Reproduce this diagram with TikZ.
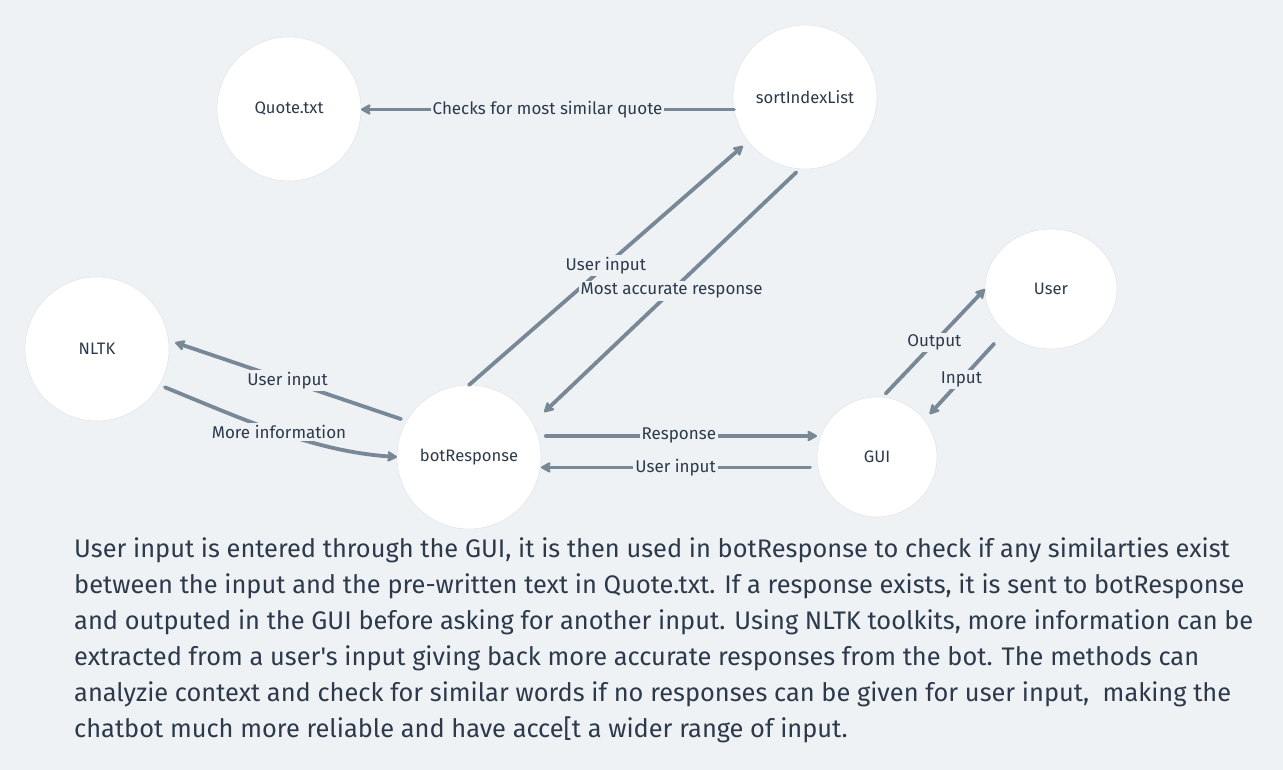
\documentclass[tikz,border=0pt]{standalone}
\usepackage{fontspec}
\setmainfont{Fira Sans}[Ligatures=TeXOff]
\usetikzlibrary{arrows.meta,shapes.geometric}
\definecolor{bg}{HTML}{EFF2F5}
\definecolor{edge}{HTML}{788897}
\definecolor{ink}{HTML}{2C3A4B}
\definecolor{rim}{HTML}{E2E6EA}
\tikzset{
  bubble/.style={circle,fill=white,draw=rim,line width=0.6pt,inner sep=0pt,outer sep=0pt,text=ink,font=\fontsize{16.6}{20}\selectfont},
  conn/.style={draw=edge,line width=3.8pt,line cap=round,-{Stealth[length=12pt,width=13pt,inset=3pt,round]}},
  lab/.style={fill=bg,text=ink,inner sep=2pt,font=\fontsize{17}{20}\selectfont},
  para/.style={anchor=base west,text=ink,inner sep=0pt,font=\fontsize{25.4}{30}\selectfont}
}
\begin{document}
\begin{tikzpicture}[x=1pt,y=-1pt]
\fill[bg] (0,0) rectangle (1283,770);
\useasboundingbox (0,0) rectangle (1283,770);

\node[bubble,minimum size=144pt] (Q) at (289,109) {Quote.txt};
\node[bubble,minimum size=144pt] (S) at (805,97) {sortIndexList};
\node[bubble,minimum size=144pt] (N) at (97,349) {NLTK};
\node[bubble,minimum size=144pt] (B) at (469,457) {botResponse};
\node[bubble,minimum size=120pt] (G) at (877,457) {GUI};
\node[bubble,ellipse,minimum width=132pt,minimum height=120pt] (U) at (1051,289) {User};

\draw[conn] (S.190) -- node[lab,pos=0.5] {Checks for most similar quote} (S.190 -| Q.east);
\draw[conn,shorten >=7pt] (B.90) -- node[lab,pos=0.49] {User input} (S.218);
\draw[conn,shorten <=5pt,shorten >=16pt] (S.266) -- node[lab,pos=0.48] {Most accurate response} (B.28);
\draw[conn,shorten <=6pt,shorten >=7pt] (B.150) -- node[lab,pos=0.5] {User input} (N.7);
\draw[conn,shorten <=6pt] (N.330) .. controls +(85.6,35) and +(-83.5,-5.7) .. node[lab,pos=0.5] {More information} (B.180);
\draw[conn,shorten <=8pt] (B.17.5) -- node[lab,pos=0.505] {Response} (B.17.5 -| G.west);
\draw[conn,shorten <=8pt] (G.190.2) -- node[lab,pos=0.514] {User input} (G.190.2 -| B.east);
\draw[conn,shorten <=5pt] (G.85.6) -- node[lab,pos=0.507] {Output} (U.180);
\draw[conn,shorten <=16pt,shorten >=8pt] (U.223) -- node[lab,pos=0.54] {Input} (G.38.4);

\node[para] (P1) at (74,557) {User input is entered through the GUI, it is then used in botResponse to check if any similarties exist};
\node[para] (P2) at (74,593) {between the input and the pre-written text in Quote.txt. If a response exists, it is sent to botResponse};
\node[para] (P3) at (74,629) {and outputed in the GUI before asking for another input. Using NLTK toolkits, more information can be};
\node[para] (P4) at (74,665) {extracted from a user's input giving back more accurate responses from the bot. The methods can};
\node[para] (P5) at (74,701) {analyzie context and check for similar words if no responses can be given for user input,\ \ making the};
\node[para] (P6) at (74,737) {chatbot much more reliable and have acce[t a wider range of input.};
\end{tikzpicture}
\end{document}
